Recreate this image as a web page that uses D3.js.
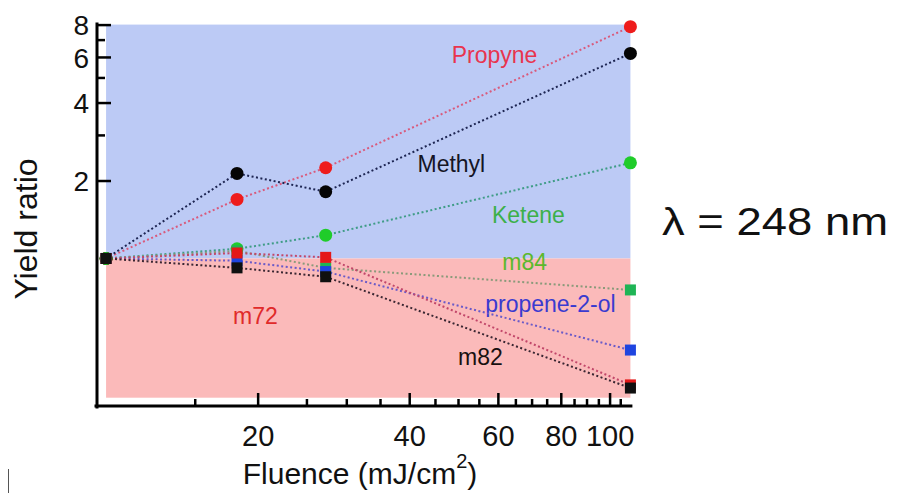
<!DOCTYPE html>
<html>
<head>
<meta charset="utf-8">
<script src="https://cdn.jsdelivr.net/npm/d3@7"></script>
<style>
  body { margin: 0; background: #fff; }
  text { font-family: "Liberation Sans", Arial, Helvetica, sans-serif; }
</style>
</head>
<body>
<svg id="chart" width="902" height="493"></svg>
<script>
// Laser fluence (mJ/cm^2) at which each yield was measured
const fluence = [10, 18.2, 27.3, 110];

// Yield ratios relative to the lowest fluence, one array per product
const propyne    = [1, 1.69, 2.24, 7.85];
const methyl     = [1, 2.13, 1.81, 6.19];
const ketene     = [1, 1.09, 1.23, 2.34];
const m84        = [1, 1.07, 0.92, 0.756];
const propene2ol = [1, 0.98, 0.89, 0.443];
const m72        = [1, 1.05, 1.01, 0.325];
const m82        = [1, 0.92, 0.85, 0.316];

const seriesNames = ["Propyne", "Methyl", "Ketene", "m84", "propene-2-ol", "m72", "m82"];

// Axis ticks
const xMajorTicks = [20, 40, 60, 80, 100];
const xMinorTicks = [15, 25, 30, 35, 45, 50, 55, 65, 70, 75, 85, 90, 95, 105];
const yMajorTicks = [2, 4, 6, 8];
const yMinorTicks = [3, 5, 7];

// Shaded regions: gain (ratio > 1) and loss (ratio < 1)
const regionFluence = [10, 110];
const regionRatio = [0.29, 1, 8];

const svg = d3.select("#chart");

const x = d3.scaleLog().domain([9.55, 111]).range([96, 632.4]);
const y = d3.scaleLog().domain([0.267, 8.15]).range([407, 22.5]);

// Drawing styles for each product
const styles = {
  "Propyne":      { values: propyne,    marker: "circle", fill: "#ee1c1c", line: "#d95a7c", label: "#e8344e", lx: 59.1, ly: 5.68 },
  "Methyl":       { values: methyl,     marker: "circle", fill: "#050505", line: "#1d2552", label: "#151525", lx: 48.5, ly: 2.157 },
  "Ketene":       { values: ketene,     marker: "circle", fill: "#1fcc2a", line: "#3f9c86", label: "#3cb04a", lx: 69.0, ly: 1.371 },
  "m84":          { values: m84,        marker: "square", fill: "#1fb455", line: "#8a9a7a", label: "#5cb82c", lx: 67.8, ly: 0.903 },
  "propene-2-ol": { values: propene2ol, marker: "square", fill: "#1f45e0", line: "#6a5ac8", label: "#3a3ad0", lx: 76.3, ly: 0.622 },
  "m72":          { values: m72,        marker: "square", fill: "#e41818", line: "#c2476a", label: "#e02a2a", lx: 19.8, ly: 0.559 },
  "m82":          { values: m82,        marker: "square", fill: "#101010", line: "#3a2632", label: "#181010", lx: 55.4, ly: 0.388 }
};

// Background regions
svg.append("rect")
  .attr("x", x(regionFluence[0])).attr("width", x(regionFluence[1]) - x(regionFluence[0]))
  .attr("y", y(regionRatio[2])).attr("height", y(regionRatio[1]) - y(regionRatio[2]))
  .attr("fill", "#bccaf5");
svg.append("rect")
  .attr("x", x(regionFluence[0])).attr("width", x(regionFluence[1]) - x(regionFluence[0]))
  .attr("y", y(regionRatio[1])).attr("height", y(regionRatio[0]) - y(regionRatio[1]))
  .attr("fill", "#fbbaba");

// Series labels
seriesNames.forEach(name => {
  const s = styles[name];
  svg.append("text")
    .attr("x", x(s.lx)).attr("y", y(s.ly))
    .attr("text-anchor", "middle")
    .attr("font-size", 23)
    .attr("fill", s.label)
    .text(name);
});

// Dotted connecting lines
const line = d3.line().x((d, i) => x(fluence[i])).y(d => y(d));
seriesNames.forEach(name => {
  const s = styles[name];
  svg.append("path")
    .datum(s.values)
    .attr("d", line)
    .attr("fill", "none")
    .attr("stroke", s.line)
    .attr("stroke-width", 2)
    .attr("stroke-dasharray", "2,2.5");
});

// Markers
seriesNames.forEach(name => {
  const s = styles[name];
  const g = svg.append("g");
  if (s.marker === "circle") {
    g.selectAll("circle").data(s.values).join("circle")
      .attr("cx", (d, i) => x(fluence[i])).attr("cy", d => y(d))
      .attr("r", 6.5).attr("fill", s.fill);
  } else {
    g.selectAll("rect").data(s.values).join("rect")
      .attr("x", (d, i) => x(fluence[i]) - 5.5).attr("y", d => y(d) - 5.5)
      .attr("width", 11).attr("height", 11).attr("fill", s.fill);
  }
});

// Y axis (ticks point into the plot)
const yAxis = svg.append("g").attr("transform", "translate(97,0)")
  .call(d3.axisLeft(y).tickValues(yMajorTicks.concat(yMinorTicks))
    .tickSizeInner(-14).tickSizeOuter(0).tickPadding(22)
    .tickFormat(d => yMajorTicks.includes(d) ? d : ""));
yAxis.select(".domain").attr("stroke-width", 3).attr("d", `M0,${y.range()[1]}V${y.range()[0] + 1.5}`);
yAxis.selectAll(".tick line").attr("stroke-width", 2.5)
  .attr("x2", d => yMajorTicks.includes(d) ? 14 : 8);
yAxis.selectAll(".tick text").attr("font-size", 28).attr("fill", "#111")
  .attr("font-family", "Liberation Sans, Arial, sans-serif")
  .attr("x", -8).attr("dy", "0.36em");

// X axis (ticks point into the plot)
const xAxis = svg.append("g").attr("transform", "translate(0,406)")
  .call(d3.axisBottom(x).tickValues(xMajorTicks.concat(xMinorTicks))
    .tickSizeInner(-13).tickSizeOuter(0).tickPadding(20)
    .tickFormat(d => xMajorTicks.includes(d) ? d : ""));
xAxis.select(".domain").attr("stroke-width", 3).attr("d", `M${x.range()[0] - 1.5},0H${x.range()[1]}`);
xAxis.selectAll(".tick line").attr("stroke-width", 2.5)
  .attr("y2", d => xMajorTicks.includes(d) ? -13 : -7);
xAxis.selectAll(".tick text").attr("font-size", 29).attr("fill", "#111")
  .attr("font-family", "Liberation Sans, Arial, sans-serif")
  .attr("y", 19).attr("dy", "0.71em");

// Axis titles
const xt = svg.append("text")
  .attr("x", 360).attr("y", 484)
  .attr("text-anchor", "middle").attr("font-size", 30).attr("fill", "#111");
xt.append("tspan").text("Fluence (mJ/cm");
xt.append("tspan").attr("font-size", 20).attr("dy", -16).text("2");
xt.append("tspan").attr("dy", 16).text(")");

svg.append("text")
  .attr("transform", "translate(37,229) rotate(-90)")
  .attr("text-anchor", "middle").attr("font-size", 32).attr("fill", "#111")
  .text("Yield ratio");

// Wavelength annotation
svg.append("text")
  .attr("x", 662).attr("y", 235)
  .attr("font-size", 38).attr("fill", "#111")
  .attr("textLength", 226).attr("lengthAdjust", "spacingAndGlyphs")
  .text("λ = 248 nm");

// Thin mark at the lower left corner
svg.append("line")
  .attr("x1", 8.5).attr("x2", 8.5).attr("y1", 469).attr("y2", 493)
  .attr("stroke", "#555").attr("stroke-width", 1);
</script>
</body>
</html>
